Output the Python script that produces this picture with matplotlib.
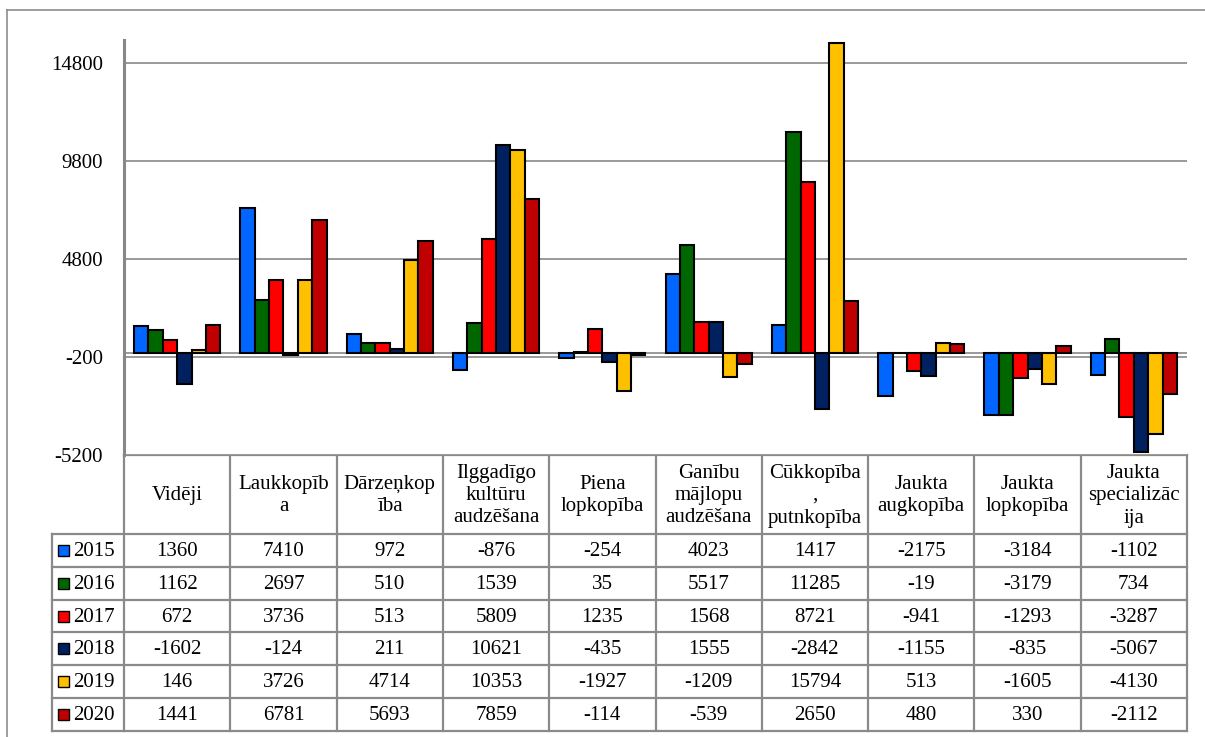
import matplotlib
matplotlib.use('Agg')
import matplotlib.pyplot as plt
from matplotlib.patches import Rectangle

plt.rcParams['font.family'] = ['Liberation Serif', 'DejaVu Serif']

categories = ['Vidēji', 'Laukkopīb\na', 'Dārzeņkop\nība', 'Ilggadīgo\nkultūru\naudzēšana',
              'Piena\nlopkopība', 'Ganību\nmājlopu\naudzēšana', 'Cūkkopība\n,\nputnkopība',
              'Jaukta\naugkopība', 'Jaukta\nlopkopība', 'Jaukta\nspecializāc\nija']
years = ['2015', '2016', '2017', '2018', '2019', '2020']
v2015 = [1360, 7410, 972, -876, -254, 4023, 1417, -2175, -3184, -1102]
v2016 = [1162, 2697, 510, 1539, 35, 5517, 11285, -19, -3179, 734]
v2017 = [672, 3736, 513, 5809, 1235, 1568, 8721, -941, -1293, -3287]
v2018 = [-1602, -124, 211, 10621, -435, 1555, -2842, -1155, -835, -5067]
v2019 = [146, 3726, 4714, 10353, -1927, -1209, 15794, 513, -1605, -4130]
v2020 = [1441, 6781, 5693, 7859, -114, -539, 2650, 480, 330, -2112]
series = [v2015, v2016, v2017, v2018, v2019, v2020]
colors = ['#0066ff', '#006600', '#ff0000', '#002060', '#ffc000', '#c00000']
yticks = [-5200, -200, 4800, 9800, 14800]

W, H = 1205, 737
fig = plt.figure(figsize=(W / 100, H / 100), dpi=100)

# chart area in pixel coordinates
left, right, top, bottom = 124, 1187, 40, 455
ax = fig.add_axes([left / W, 1 - bottom / H, (right - left) / W, (bottom - top) / H])
grid_c = '#878787'
n = len(categories)
bw = 0.135
for j, vals in enumerate(series):
    xs = [i + 0.5 + (j - 2.5) * bw for i in range(n)]
    ax.bar(xs, vals, width=bw, color=colors[j], edgecolor='black', linewidth=1.5, zorder=3)
ax.set_xlim(0, n)
ax.set_ylim(-5200, 15950)
ax.set_yticks(yticks)
ax.set_yticklabels([str(t) for t in yticks], fontsize=15)
ax.tick_params(axis='y', length=0, pad=15)
ax.set_xticks([])
ax.yaxis.grid(True, color=grid_c, linewidth=1.2, zorder=0)
ax.axhline(0, color=grid_c, linewidth=1.2, zorder=2)
for s in ['top', 'right', 'bottom']:
    ax.spines[s].set_visible(False)
ax.spines['left'].set_color(grid_c)
ax.spines['left'].set_linewidth(2.2)

# overlay for table and border
tax = fig.add_axes([0, 0, 1, 1], zorder=-1)
tax.set_xlim(0, W)
tax.set_ylim(H, 0)
tax.axis('off')
line_c = '#8c8c8c'
tax.plot([7, W], [10, 10], color=line_c, lw=1.2)
tax.plot([7, 7], [10, H], color=line_c, lw=1.2)

tab_left = 52
header_bot = 534
row_h = 32.8
tab_bot = header_bot + row_h * len(years)
colw = (right - left) / n
tc = '#8a8a8a'
tlw = 1.6
# horizontal lines
tax.plot([left, right], [bottom, bottom], color=tc, lw=tlw)
for r in range(len(years) + 1):
    y = header_bot + r * row_h
    tax.plot([tab_left, right], [y, y], color=tc, lw=tlw)
# vertical lines
tax.plot([tab_left, tab_left], [header_bot, tab_bot], color=tc, lw=tlw)
for c in range(n + 1):
    x = left + c * colw
    tax.plot([x, x], [bottom, tab_bot], color=tc, lw=tlw)

fs = 15
for c, name in enumerate(categories):
    tax.text(left + (c + 0.5) * colw, (bottom + header_bot) / 2 + 1, name, ha='center',
             va='center', fontsize=fs, linespacing=1.25)
for r, (yr, vals) in enumerate(zip(years, series)):
    yc = header_bot + (r + 0.5) * row_h
    tax.add_patch(Rectangle((58, yc - 5.5), 11, 11, facecolor=colors[r],
                            edgecolor='black', lw=1.0))
    tax.text(73, yc + 1, yr, ha='left', va='center', fontsize=fs)
    for c, v in enumerate(vals):
        tax.text(left + (c + 0.5) * colw, yc + 1, str(v), ha='center', va='center', fontsize=fs)

plt.savefig('out.png', dpi=100)
